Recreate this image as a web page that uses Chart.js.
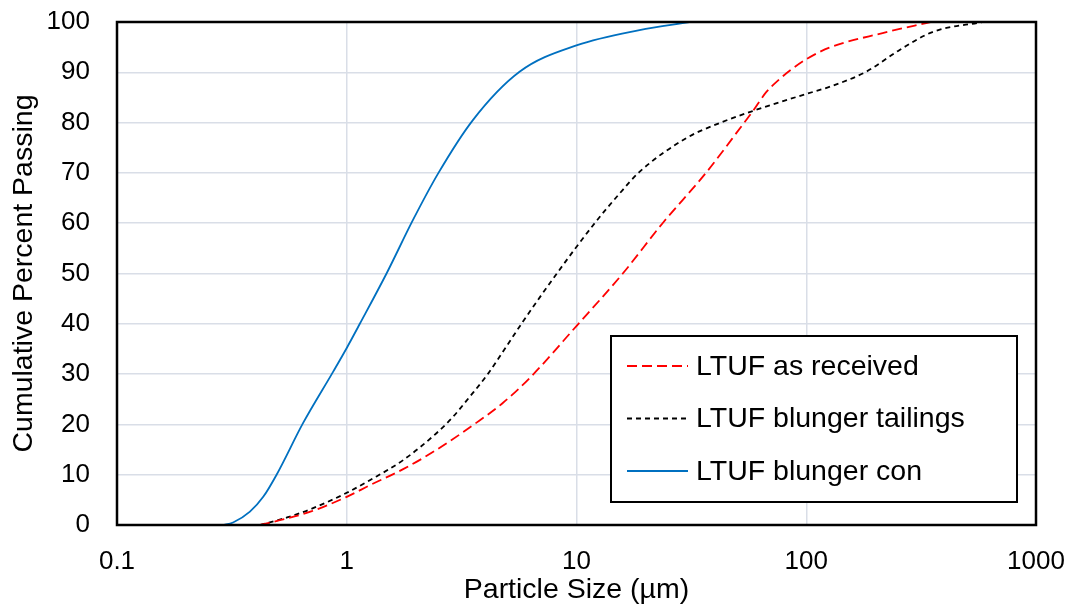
<!DOCTYPE html>
<html>
<head>
<meta charset="utf-8">
<script src="https://cdn.jsdelivr.net/npm/chart.js@4.4.1/dist/chart.umd.min.js"></script>
<style>
  html, body { margin: 0; padding: 0; background: #ffffff; }
  #wrap { width: 1073px; height: 608px; position: relative; }
</style>
</head>
<body>
<div id="wrap"><canvas id="c" width="1073" height="608"></canvas></div>
<script>
// ---- Data ----
const xTickValues = [0.1, 1, 10, 100, 1000];
const yTickMax = 100;

const seriesNames = ["LTUF as received", "LTUF blunger tailings", "LTUF blunger con"];

const receivedSize    = [0.419, 0.55, 0.7, 1.0, 1.26, 1.76, 2.45, 3.66, 4.79, 6.25, 9.97, 15.9, 23.7, 36.6, 53.7, 58.4, 66.8, 76.3, 85.8, 100,  126,  215,  348];
const receivedPassing = [0,     1.3,  2.7, 5.6, 7.9,  11.1, 14.9, 20.3, 24.3, 29.2, 39.5, 50,   60,   70,   80,   82.2, 86,   88.6, 90.5, 92.6, 94.9, 97.8, 100];

const tailingsSize    = [0.419, 0.55, 0.7, 1.0, 1.26, 1.76, 2.45, 2.9,  3.43, 4.11, 4.79, 5.84, 8.21, 12.0, 15.4, 18.8, 30,   41.9, 58.4, 100,  126,  182,  254,  354, 585];
const tailingsPassing = [0,     1.5,  3.2, 6.4, 8.9,  12.9, 18.2, 21.5, 25.5, 30,   34.5, 40.4, 50,   60,   65.9, 70.2, 76.9, 79.9, 82.3, 85.7, 87.1, 90.1, 94.4, 98,  100];

const conSize    = [0.288, 0.32, 0.379, 0.433, 0.495, 0.646, 0.873, 1.0,  1.14, 1.49, 1.94, 2.5,  3.54, 5.65, 10.07, 18.8, 31];
const conPassing = [0,     0.5,  2.65,  5.6,   10,    20.3,  30.5,  35.2, 40,   50,   60.6, 69.9, 80.5, 90.1, 95.4,  98.4, 100];

function pts(xs, ys) { return xs.map((x, i) => ({ x: x, y: ys[i] })); }

const FONT = "'Liberation Sans', Arial, sans-serif";

function noScalePadding(scale) {
  scale.paddingTop = 0; scale.paddingBottom = 0; scale.paddingLeft = 0; scale.paddingRight = 0;
}

// frame around plot area
const framePlugin = {
  id: 'frame',
  afterDatasetsDraw(chart) {
    const a = chart.chartArea, ctx = chart.ctx;
    ctx.save();
    ctx.strokeStyle = '#000';
    ctx.lineWidth = 2.5;
    ctx.strokeRect(a.left, a.top, a.right - a.left, a.bottom - a.top);
    ctx.restore();
  }
};

// legend box inside plot area
const boxLegend = {
  id: 'boxLegend',
  afterDraw(chart) {
    const ctx = chart.ctx;
    const bx = 611, by = 336, bw = 406, bh = 166;
    ctx.save();
    ctx.fillStyle = '#fff';
    ctx.fillRect(bx, by, bw, bh);
    ctx.strokeStyle = '#000';
    ctx.lineWidth = 2;
    ctx.strokeRect(bx, by, bw, bh);
    ctx.font = '28.5px ' + FONT;
    ctx.textBaseline = 'middle';
    ctx.textAlign = 'left';
    chart.data.datasets.forEach((ds, i) => {
      const yy = by + 30 + i * 52.5;
      ctx.strokeStyle = ds.borderColor;
      ctx.lineWidth = ds.borderWidth;
      ctx.setLineDash(ds.borderDash || []);
      ctx.beginPath();
      ctx.moveTo(bx + 16, yy);
      ctx.lineTo(bx + 77, yy);
      ctx.stroke();
      ctx.setLineDash([]);
      ctx.fillStyle = '#000';
      ctx.fillText(ds.label, bx + 85, yy + 1);
    });
    ctx.restore();
  }
};

const lineCommon = { borderWidth: 1.8, pointRadius: 0, cubicInterpolationMode: 'monotone', fill: false };

new Chart(document.getElementById('c'), {
  type: 'line',
  data: {
    datasets: [
      Object.assign({ label: seriesNames[0], data: pts(receivedSize, receivedPassing), borderColor: '#FF0000', borderDash: [10, 5] }, lineCommon),
      Object.assign({ label: seriesNames[1], data: pts(tailingsSize, tailingsPassing), borderColor: '#000000', borderDash: [5, 4] }, lineCommon),
      Object.assign({ label: seriesNames[2], data: pts(conSize, conPassing), borderColor: '#0070C0' }, lineCommon)
    ]
  },
  options: {
    responsive: false,
    animation: false,
    layout: { padding: { left: 0, top: 22, right: 37, bottom: 0 } },
    plugins: { legend: { display: false }, tooltip: { enabled: false } },
    scales: {
      x: {
        type: 'logarithmic',
        min: 0.1, max: 1000,
        afterBuildTicks(scale) { scale.ticks = xTickValues.map(v => ({ value: v })); },
        afterFit(scale) { scale.height = 83; noScalePadding(scale); },
        grid: { color: '#D9DEE7', lineWidth: 1.5, drawTicks: false },
        border: { display: false },
        ticks: { color: '#000', font: { family: FONT, size: 26 }, padding: 21, maxRotation: 0, autoSkip: false,
                 callback: (v) => String(v) },
        title: { display: true, text: 'Particle Size (µm)', color: '#000', font: { family: FONT, size: 28.5 }, padding: { top: 0, bottom: 1 } }
      },
      y: {
        min: 0, max: yTickMax,
        afterFit(scale) { scale.width = 117; noScalePadding(scale); },
        grid: { color: '#D9DEE7', lineWidth: 1.5, drawTicks: false },
        border: { display: false },
        ticks: { stepSize: 10, color: '#000', font: { family: FONT, size: 26 }, padding: 27 },
        title: { display: true, text: 'Cumulative Percent Passing', color: '#000', font: { family: FONT, size: 28.5 }, padding: { top: 7, bottom: 0 } }
      }
    }
  },
  plugins: [framePlugin, boxLegend]
});
</script>
</body>
</html>
